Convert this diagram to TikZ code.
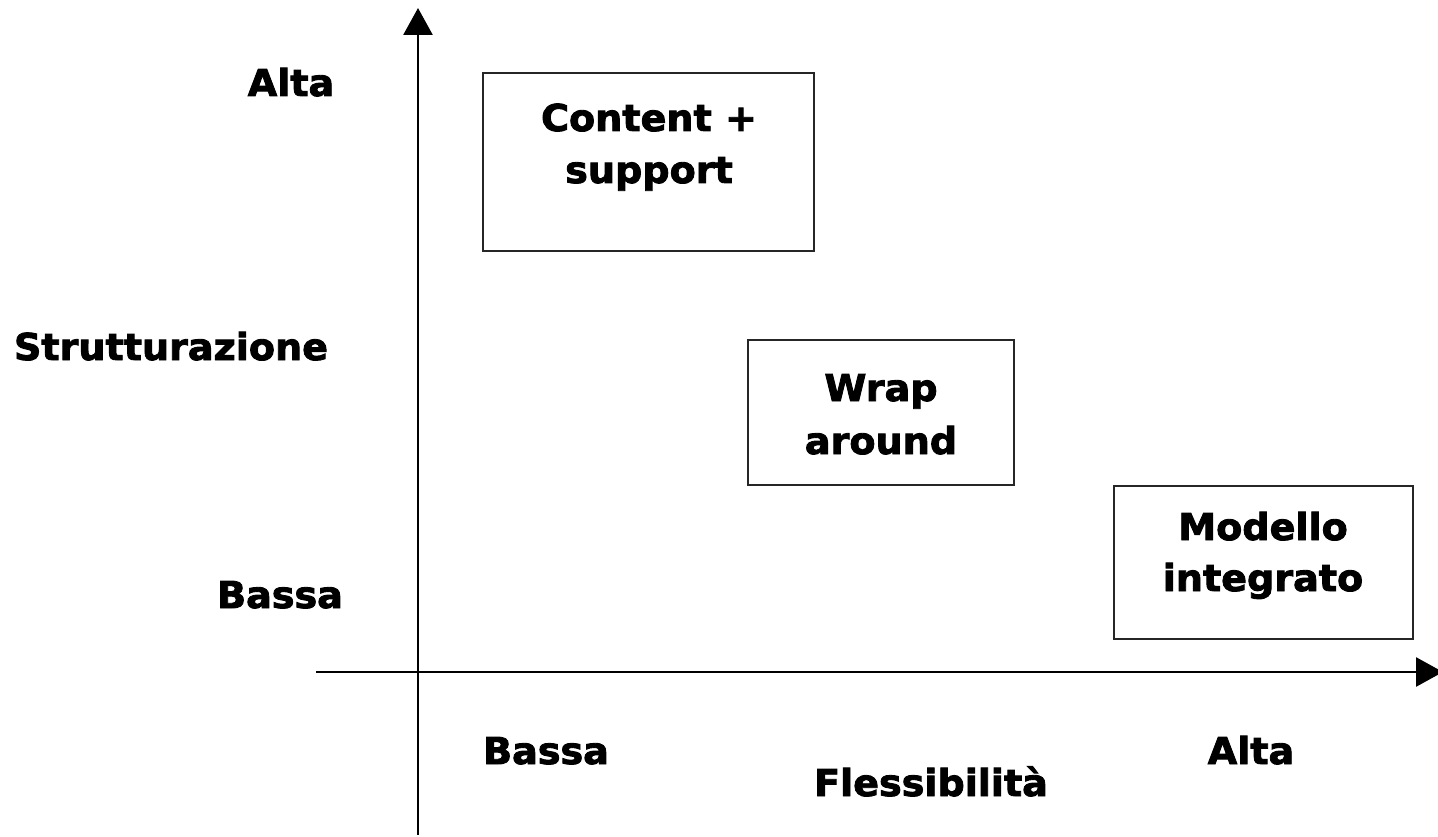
\documentclass[tikz,border=0pt]{standalone}
\usepackage{fontspec}
\setmainfont{DejaVu Sans}[BoldFont={DejaVu Sans Bold}, BoldFeatures={FakeBold=2.3, FakeStretch=1.03}]
\usetikzlibrary{arrows.meta}
\begin{document}
\begin{tikzpicture}[x=1pt,y=-1pt,
  lbl/.style={font=\bfseries\fontsize{37}{53}\selectfont, inner sep=0pt, anchor=base},
  boxnode/.style={draw=black!85, line width=1.8pt, inner sep=0pt, fill=none},
  axis/.style={line width=2.8pt, -{Triangle[length=27pt,width=29pt]}}]
\useasboundingbox[fill=white] (0,0) rectangle (1438,837);
% axes
\coordinate (vb) at (418,835);
\coordinate (vt) at (418,8);
\coordinate (hl) at (316,672);
\coordinate (hr) at (1443,672);
\draw[axis] (vb) -- (vt);
\draw[axis] (hl) -- (hr);
% boxes
\node[boxnode, minimum width=331pt, minimum height=178pt] (b1) at (648.5,162) {};
\node[boxnode, minimum width=266pt, minimum height=145pt] (b2) at (881,412.5) {};
\node[boxnode, minimum width=299pt, minimum height=153pt] (b3) at (1263.5,562.5) {};
% box texts
\node[lbl] (t1a) at (649,131) {Content +};
\node[lbl] (t1b) at (649,183) {support};
\node[lbl] (t2a) at (881,401) {Wrap};
\node[lbl] (t2b) at (881,454) {around};
\node[lbl] (t3a) at (1263,540) {Modello};
\node[lbl] (t3b) at (1263,591) {integrato};
% axis labels
\node[lbl] (yhi) at (291,96) {Alta};
\node[lbl] (ylab) at (171,360) {Strutturazione};
\node[lbl] (ylo) at (280,608) {Bassa};
\node[lbl] (xlo) at (546,764) {Bassa};
\node[lbl] (xhi) at (1251,764) {Alta};
\node[lbl] (xlab) at (931,796) {Flessibilità};
\end{tikzpicture}
\end{document}
